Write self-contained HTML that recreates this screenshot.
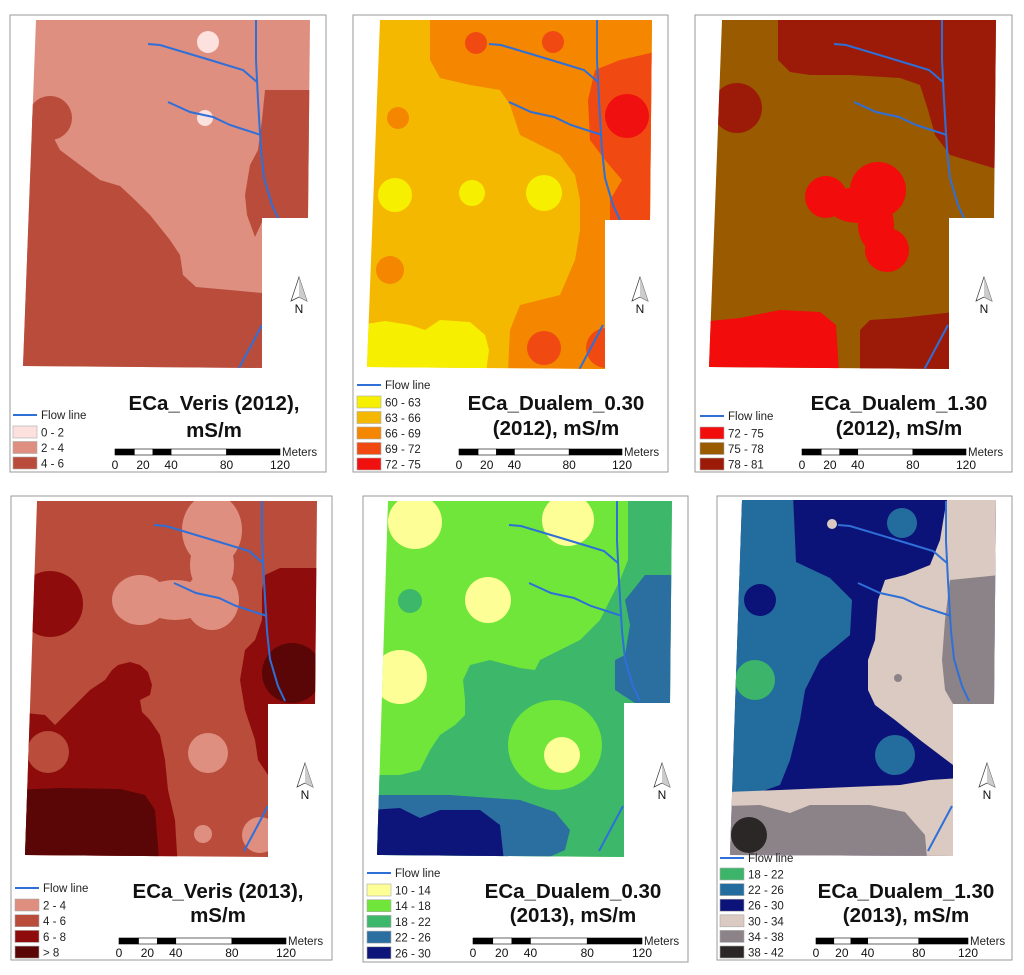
<!DOCTYPE html>
<html><head><meta charset="utf-8">
<style>
html,body{margin:0;padding:0;background:#fff;}
svg{display:block;font-family:"Liberation Sans",Arial,sans-serif;}
.ttl{font-weight:bold;font-size:20.5px;text-anchor:middle;fill:#111;}
.lg{font-size:11.5px;fill:#222;}
.sc{font-size:12px;fill:#111;text-anchor:middle;}
</style></head>
<body>
<svg id="root" width="1024" height="975" viewBox="0 0 1024 975">
<defs>
<clipPath id="c1"><polygon points="36,20 310,20 308,218 262,218 262,368 23,366"/></clipPath>
<clipPath id="c2"><polygon points="380,20 652,20 650,220 605,220 605,369 367,367"/></clipPath>
<clipPath id="c3"><polygon points="722,20 996,20 994,218 949,218 949,369 709,367"/></clipPath>
<clipPath id="c4"><polygon points="37,501 317,501 315,704 268,704 268,857 25,855"/></clipPath>
<clipPath id="c5"><polygon points="388,501 672,501 670,703 624,703 624,857 377,855"/></clipPath>
<clipPath id="c6"><polygon points="742,500 996,500 994,704 953,704 953,856 730,855"/></clipPath>
<g id="flow" fill="none" stroke="#2f6fd8" stroke-width="2">
<path d="M256,20 L256,60 L258,100 L261,150 L264,178 L272,205 L279,220"/>
<path d="M148,44 L160,45 L210,60 L243,70 L257,82"/>
<path d="M168,102 L190,112 L213,117 L230,125 L261,135"/>
<path d="M238,370 L262,325"/>
</g>
</defs>

<rect x="10" y="15" width="316" height="457" fill="none" stroke="#999"/>
<rect x="353" y="15" width="315" height="457" fill="none" stroke="#999"/>
<rect x="695" y="15" width="317" height="457" fill="none" stroke="#999"/>
<rect x="11" y="496" width="321" height="464" fill="none" stroke="#999"/>
<rect x="363" y="496" width="325" height="466" fill="none" stroke="#999"/>
<rect x="717" y="496" width="295" height="464" fill="none" stroke="#999"/>

<g clip-path="url(#c1)">
<rect x="0" y="0" width="340" height="380" fill="#df8f80"/>
<circle cx="50" cy="118" r="22" fill="#b94c3b"/>
<path d="M20,110 L40,112 L60,150 L80,165 L100,180 L120,186 L135,200 L150,215 L170,240 L180,255 L183,275 L196,287 L230,290 L262,293 L270,380 L10,380 Z" fill="#b94c3b"/>
<path d="M265,90 L315,90 L315,222 L262,222 L255,237 L247,215 L245,195 L250,165 L258,150 L262,120 Z" fill="#b94c3b"/>
<circle cx="208" cy="42" r="11" fill="#fde1df"/>
<circle cx="205" cy="118" r="8" fill="#fde1df"/>
<use href="#flow"/>
</g>
<g clip-path="url(#c2)">
<rect x="350" y="0" width="320" height="380" fill="#f5b800"/>
<path d="M430,20 L430,60 L440,78 L470,85 L500,90 L510,105 L520,135 L540,145 L560,155 L575,175 L580,200 L580,230 L575,260 L560,295 L520,305 L510,330 L508,370 L660,370 L660,15 L430,15 Z" fill="#f48600"/>
<path d="M595,70 L620,60 L655,52 L655,222 L610,222 L610,200 L622,180 L605,160 L590,140 L588,100 Z" fill="#f04a12"/>
<circle cx="627" cy="116" r="22" fill="#f01010"/>
<circle cx="476" cy="43" r="11" fill="#f04a12"/>
<circle cx="553" cy="42" r="11" fill="#f04a12"/>
<circle cx="544" cy="348" r="17" fill="#f04a12"/>
<circle cx="606" cy="348" r="20" fill="#f04a12"/>
<circle cx="398" cy="118" r="11" fill="#f48600"/>
<circle cx="390" cy="270" r="14" fill="#f48600"/>
<circle cx="395" cy="195" r="17" fill="#f6f000"/>
<circle cx="472" cy="193" r="13" fill="#f6f000"/>
<circle cx="544" cy="193" r="18" fill="#f6f000"/>
<path d="M360,325 L385,321 L410,325 L425,330 L440,320 L470,322 L485,335 L489,350 L486,372 L360,372 Z" fill="#f6f000"/>
<use href="#flow" transform="translate(341,0)"/>
</g>
<g clip-path="url(#c3)">
<rect x="700" y="0" width="310" height="380" fill="#9a5a00"/>
<path d="M778,15 L778,60 L790,72 L810,75 L850,75 L900,78 L920,85 L928,110 L935,135 L950,155 L1000,170 L1000,15 Z" fill="#9c1b08"/>
<circle cx="737" cy="108" r="25" fill="#9c1b08"/>
<path d="M860,372 L860,330 L870,320 L900,318 L955,312 L955,372 Z" fill="#9c1b08"/>
<circle cx="826" cy="197" r="21" fill="#f20c0c"/>
<circle cx="878" cy="190" r="28" fill="#f20c0c"/>
<circle cx="887" cy="250" r="22" fill="#f20c0c"/>
<ellipse cx="858" cy="205" rx="30" ry="18" fill="#f20c0c"/>
<ellipse cx="876" cy="225" rx="18" ry="26" fill="#f20c0c"/>
<path d="M700,322 L740,318 L780,310 L820,312 L836,325 L839,372 L700,372 Z" fill="#f20c0c"/>
<use href="#flow" transform="translate(686,0)"/>
</g>
<g clip-path="url(#c4)">
<rect x="10" y="490" width="320" height="380" fill="#b94c3b"/>
<g fill="#df8f80">
<ellipse cx="212" cy="530" rx="30" ry="36"/>
<ellipse cx="212" cy="600" rx="27" ry="30"/>
<ellipse cx="140" cy="600" rx="28" ry="25"/>
<ellipse cx="212" cy="565" rx="22" ry="30"/>
<ellipse cx="175" cy="600" rx="35" ry="20"/>
</g>
<circle cx="50" cy="604" r="33" fill="#8f0c0c"/>
<path d="M265,575 L280,568 L320,568 L320,704 L268,704 L268,775 L258,760 L255,740 L245,710 L240,680 L245,650 L255,640 L262,620 L262,590 Z" fill="#8f0c0c"/>
<circle cx="292" cy="673" r="30" fill="#5a0606"/>
<path d="M15,712 L45,715 L55,725 L70,710 L90,690 L105,680 L112,670 L118,665 L130,662 L140,665 L148,672 L152,685 L150,695 L140,700 L142,712 L150,720 L160,735 L165,760 L168,790 L175,820 L178,870 L15,870 Z" fill="#8f0c0c"/>
<circle cx="48" cy="752" r="21" fill="#b94c3b"/>
<path d="M15,790 L60,788 L120,789 L145,795 L155,810 L160,870 L15,870 Z" fill="#5a0606"/>
<circle cx="208" cy="753" r="20" fill="#df8f80"/>
<circle cx="203" cy="834" r="9" fill="#df8f80"/>
<circle cx="260" cy="835" r="18" fill="#df8f80"/>
<use href="#flow" transform="translate(6,481)"/>
</g>
<g clip-path="url(#c5)">
<rect x="370" y="490" width="310" height="380" fill="#70e63a"/>
<path d="M370,775 L400,775 L420,770 L430,750 L440,735 L455,725 L465,715 L465,700 L463,680 L470,665 L490,660 L520,668 L535,670 L540,660 L560,650 L580,640 L600,620 L610,600 L620,580 L628,560 L628,495 L680,495 L680,870 L370,870 Z" fill="#3db86b"/>
<ellipse cx="555" cy="745" rx="47" ry="45" fill="#70e63a"/>
<path d="M645,575 L680,575 L680,705 L638,705 L615,690 L615,660 L625,655 L630,625 L625,600 Z" fill="#2b6fa0"/>
<path d="M370,795 L450,795 L520,800 L555,812 L570,830 L565,850 L520,870 L370,870 Z" fill="#2b6fa0"/>
<path d="M370,810 L400,808 L420,818 L440,810 L480,810 L500,825 L505,870 L370,870 Z" fill="#0d157a"/>
<g fill="#fefe96">
<circle cx="415" cy="522" r="27"/>
<circle cx="568" cy="520" r="26"/>
<circle cx="488" cy="600" r="23"/>
<circle cx="400" cy="677" r="27"/>
<circle cx="562" cy="755" r="18"/>
</g>
<circle cx="410" cy="601" r="12" fill="#3db86b"/>
<use href="#flow" transform="translate(361,481)"/>
</g>
<g clip-path="url(#c6)">
<rect x="720" y="490" width="290" height="380" fill="#0c1378"/>
<path d="M725,495 L793,495 L796,562 L830,578 L852,600 L850,635 L820,660 L805,690 L800,720 L790,760 L780,785 L760,792 L725,793 Z" fill="#236d9e"/>
<circle cx="760" cy="600" r="16" fill="#0c1378"/>
<circle cx="755" cy="680" r="20" fill="#3cb56a"/>
<path d="M948,495 L1000,495 L1000,704 L953,704 L953,765 L920,740 L895,720 L875,705 L868,690 L868,660 L875,640 L878,600 L885,580 L905,575 L930,565 L940,540 L945,510 Z" fill="#dbcac1"/>
<path d="M725,792 L780,790 L850,787 L900,785 L930,780 L960,778 L960,870 L725,870 Z" fill="#dbcac1"/>
<path d="M950,580 L1000,575 L1000,704 L953,704 L945,690 L942,660 L945,620 Z" fill="#8c8388"/>
<path d="M725,806 L760,805 L790,813 L810,805 L870,805 L905,812 L925,835 L928,870 L725,870 Z" fill="#8c8388"/>
<circle cx="749" cy="835" r="18" fill="#2b2727"/>
<circle cx="902" cy="523" r="15" fill="#236d9e"/>
<circle cx="895" cy="755" r="20" fill="#236d9e"/>
<circle cx="832" cy="524" r="5" fill="#dbcac1"/>
<circle cx="898" cy="678" r="4" fill="#8c8388"/>
<use href="#flow" transform="translate(690,481)"/>
</g>

<text class="ttl" x="214" y="410">ECa_Veris (2012),</text>
<text class="ttl" x="214" y="437">mS/m</text>
<text class="ttl" x="556" y="410">ECa_Dualem_0.30</text>
<text class="ttl" x="556" y="435">(2012), mS/m</text>
<text class="ttl" x="899" y="410">ECa_Dualem_1.30</text>
<text class="ttl" x="899" y="435">(2012), mS/m</text>
<text class="ttl" x="218" y="898">ECa_Veris (2013),</text>
<text class="ttl" x="218" y="922">mS/m</text>
<text class="ttl" x="573" y="898">ECa_Dualem_0.30</text>
<text class="ttl" x="573" y="922">(2013), mS/m</text>
<text class="ttl" x="906" y="898">ECa_Dualem_1.30</text>
<text class="ttl" x="906" y="922">(2013), mS/m</text>
<g id="dyn"></g>
</svg>
<script>
const NS = "http://www.w3.org/2000/svg";
const dyn = document.getElementById('dyn');
const legVeris12 = ["0 - 2","2 - 4","4 - 6"];
const colVeris12 = ["#fde1df","#df8f80","#b94c3b"];
const legD030_12 = ["60 - 63","63 - 66","66 - 69","69 - 72","72 - 75"];
const colD030_12 = ["#f6f000","#f5b800","#f48600","#f04a12","#f01010"];
const legD130_12 = ["72 - 75","75 - 78","78 - 81"];
const colD130_12 = ["#f20c0c","#9a5a00","#9c1b08"];
const legVeris13 = ["2 - 4","4 - 6","6 - 8","> 8"];
const colVeris13 = ["#df8f80","#b94c3b","#8f0c0c","#5a0606"];
const legD030_13 = ["10 - 14","14 - 18","18 - 22","22 - 26","26 - 30"];
const colD030_13 = ["#fefe96","#70e63a","#3db86b","#2b6fa0","#0d157a"];
const legD130_13 = ["18 - 22","22 - 26","26 - 30","30 - 34","34 - 38","38 - 42"];
const colD130_13 = ["#3cb56a","#236d9e","#0c1378","#dbcac1","#8c8388","#2b2727"];
const scaleTicks = ["0","20","40","80","120"];
const scaleTickFrac = [0,0.17,0.34,0.676,1];
const scaleSegFrac = [0,0.117,0.23,0.34,0.676,1];

function mk(tag, attrs){const e=document.createElementNS(NS,tag);for(const k in attrs)e.setAttribute(k,attrs[k]);dyn.appendChild(e);return e;}

function legend(x, fy, by, step, labels, cols){
  const l = mk('line',{x1:x,y1:fy,x2:x+24,y2:fy,stroke:'#2f6fd8','stroke-width':2});
  
  
  const t = mk('text',{x:x+28,y:fy+4,class:'lg'});
  t.textContent='Flow line';
  
  
  labels.forEach((lab,i)=>{
    const y = by + i*step;
    const r = mk('rect',{x:x,y:y,width:24,height:12,fill:cols[i],stroke:'#aaa','stroke-width':0.6});
    
    
    const tt = mk('text',{x:x+28,y:y+10.5,class:'lg'});
    tt.textContent = lab;
    
    
  });
}
function scalebar(x0, x1, y, ly){
  const w = x1-x0;
  for(let i=0;i<scaleSegFrac.length-1;i++){
    const r = mk('rect',{x:x0+scaleSegFrac[i]*w,y:y,width:(scaleSegFrac[i+1]-scaleSegFrac[i])*w,height:6,fill:(i%2==0)?'#000':'#fff',stroke:'#000','stroke-width':0.6});
    
    
  }
  scaleTicks.forEach((tk,i)=>{
    const t = mk('text',{x:x0+scaleTickFrac[i]*w,y:ly,class:'sc'});
    t.textContent = tk;
    
    
  });
  const m = mk('text',{x:x1+2,y:y+7,class:'lg','font-size':'12.5'});
  m.textContent='Meters';
  
  
}
function north(x, y){
  const p = mk('path',{d:`M${x},${y} L${x-8},${y+24} L${x},${y+20} L${x+8},${y+24} Z`,fill:'#fff',stroke:'#333','stroke-width':0.7});
  
  
  const h = mk('path',{d:`M${x},${y} L${x},${y+20} L${x+8},${y+24} Z`,fill:'#ccc'});
  
  
  const t = mk('text',{x:x,y:y+36,class:'sc','font-size':'11'});
  t.textContent='N';
  
  
}
legend(13,415,426,15.5,legVeris12,colVeris12);
legend(357,385,396,15.5,legD030_12,colD030_12);
legend(700,416,427,15.5,legD130_12,colD130_12);
legend(15,888,899,15.7,legVeris13,colVeris13);
legend(367,873,884,15.7,legD030_13,colD030_13);
legend(720,858,868,15.6,legD130_13,colD130_13);
scalebar(115,280,449,469);
scalebar(459,622,449,469);
scalebar(802,966,449,469);
scalebar(119,286,938,957);
scalebar(473,642,938,957);
scalebar(816,968,938,957);
north(299,277);north(640,277);north(984,277);
north(305,763);north(662,763);north(987,763);
</script>
</body></html>
